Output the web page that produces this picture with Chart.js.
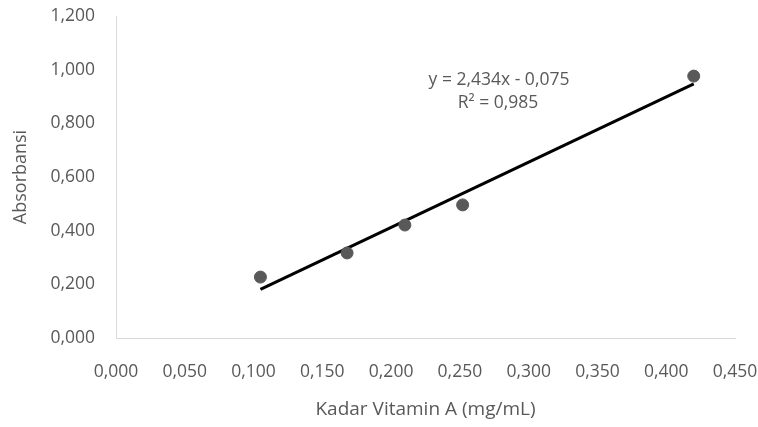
<!DOCTYPE html>
<html>
<head>
<meta charset="utf-8">
<script src="https://cdn.jsdelivr.net/npm/chart.js@4"></script>
<style>
  html, body { margin: 0; padding: 0; background: #fff; }
  #wrap { width: 758px; height: 427px; }
</style>
</head>
<body>
<div id="wrap"><canvas id="kurva"></canvas></div>
<script>
// Data kurva baku
const kadar = [0.105, 0.168, 0.210, 0.252, 0.420];
const absorbansi = [0.227, 0.317, 0.421, 0.496, 0.976];
// Garis trend (ujung-ujungnya)
const trendX = [0.105, 0.420];
const trendY = [0.181, 0.947];
const persamaan = ["y = 2,434x - 0,075", "R² = 0,985"];

const fmt = v => v.toFixed(3).replace(".", ",");
const abu = "#595959";

const labelPersamaan = {
  id: "labelPersamaan",
  afterDatasetsDraw(chart) {
    const ctx = chart.ctx;
    const a = chart.chartArea;
    ctx.save();
    ctx.fillStyle = abu;
    ctx.font = "17.5px 'Open Sans'";
    ctx.textAlign = "center";
    ctx.textBaseline = "middle";
    ctx.fillText(persamaan[0], a.left + 383, a.top + 64);
    ctx.fillText(persamaan[1], a.left + 382, a.top + 87);
    ctx.restore();
  }
};

new Chart(document.getElementById("kurva"), {
  type: "scatter",
  data: {
    datasets: [
      {
        label: "Absorbansi",
        data: kadar.map((x, i) => ({ x: x, y: absorbansi[i] })),
        backgroundColor: abu,
        borderColor: abu,
        pointRadius: 6,
        pointHoverRadius: 6
      },
      {
        label: "Linear",
        type: "line",
        data: trendX.map((x, i) => ({ x: x, y: trendY[i] })),
        borderColor: "#000",
        borderWidth: 3,
        pointRadius: 0,
        fill: false
      }
    ]
  },
  options: {
    responsive: true,
    maintainAspectRatio: false,
    animation: false,
    layout: { padding: { top: 16, right: 23, left: 0, bottom: 0 } },
    plugins: { legend: { display: false }, tooltip: { enabled: false } },
    scales: {
      x: {
        type: "linear",
        min: 0,
        max: 0.45,
        afterFit: s => { s.height = 89; s.paddingLeft = 0; s.paddingRight = 0; },
        ticks: {
          stepSize: 0.05,
          color: abu,
          padding: 24,
          font: { family: "Open Sans", size: 17.5 },
          callback: v => fmt(v)
        },
        grid: { display: false, drawTicks: false },
        border: { display: true, color: "#d9d9d9", width: 1 },
        title: {
          display: true,
          text: "Kadar Vitamin A (mg/mL)",
          color: abu,
          font: { family: "Open Sans", size: 19 },
          padding: { top: 0, bottom: 6 }
        }
      },
      y: {
        min: 0,
        max: 1.2,
        afterFit: s => { s.width = 116; s.paddingTop = 0; s.paddingBottom = 0; },
        ticks: {
          stepSize: 0.2,
          color: abu,
          padding: 21,
          font: { family: "Open Sans", size: 17.5 },
          callback: v => fmt(v)
        },
        grid: { display: false, drawTicks: false },
        border: { display: true, color: "#d9d9d9", width: 1 },
        title: {
          display: true,
          text: "Absorbansi",
          color: abu,
          font: { family: "Open Sans", size: 18 },
          padding: { top: 10, bottom: 0 }
        }
      }
    }
  },
  plugins: [labelPersamaan]
});
</script>
</body>
</html>
